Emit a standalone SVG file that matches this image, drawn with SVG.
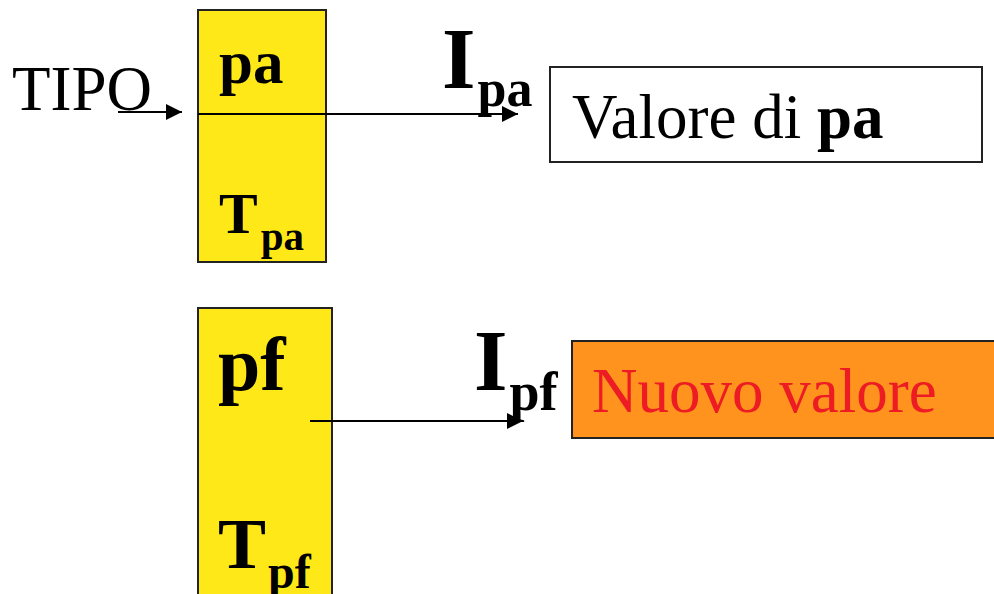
<svg xmlns="http://www.w3.org/2000/svg" width="994" height="594" viewBox="0 0 994 594">
<style>
.t{font-family:"Liberation Serif","Times New Roman",serif;fill:#000}
.b{font-weight:bold}
.box{stroke:#222;stroke-width:2}
.ln{stroke:#000;stroke-width:2.2;fill:none}
</style>
<defs>
<marker id="ah" markerUnits="userSpaceOnUse" markerWidth="18" markerHeight="16" refX="16" refY="8" orient="auto">
<path d="M0,0 L16,8 L0,16 Z" fill="#000"/>
</marker>
</defs>
<rect width="994" height="594" fill="#fff"/>
<g id="tipo">
<text class="t" x="12" y="110" font-size="63">TIPO</text>
</g>
<g id="box-pa">
<rect class="box" x="198" y="10" width="128" height="252" fill="#FFE817"/>
<line x1="198" y1="114" x2="326" y2="114" stroke="#000" stroke-width="2"/>
<text class="t b" x="219" y="83" font-size="61">pa</text>
<text class="t b" x="219" y="233" font-size="58">T<tspan font-size="41" dx="3" dy="17">pa</tspan></text>
</g>
<g id="label-ipa">
<text class="t b" x="442" y="88" font-size="86">I<tspan font-size="52" dx="2" dy="18">pa</tspan></text>
</g>
<g id="valore-pa">
<rect x="550" y="67" width="432" height="95" fill="#fff" stroke="#222" stroke-width="2"/>
<text class="t" x="572" y="138" font-size="63">Valore di <tspan font-weight="bold">pa</tspan></text>
</g>
<g id="box-pf">
<rect class="box" x="198" y="308" width="134" height="300" fill="#FFE817"/>
<text class="t b" x="218" y="390" font-size="76">pf</text>
<text class="t b" x="218" y="568" font-size="72">T<tspan font-size="48" dx="2" dy="20">pf</tspan></text>
</g>
<g id="label-ipf">
<text class="t b" x="474" y="390" font-size="86">I<tspan font-size="54" dx="2" dy="20">pf</tspan></text>
</g>
<g id="nuovo-valore">
<rect x="572" y="341" width="430" height="97" fill="#FF931E" stroke="#222" stroke-width="2"/>
<text x="592" y="412" font-size="63" font-family="Liberation Serif, Times New Roman, serif" fill="#ED1C24">Nuovo valore</text>
</g>
<g id="connectors">
<line class="ln" x1="118" y1="112" x2="182" y2="112" marker-end="url(#ah)"/>
<line class="ln" x1="310" y1="114" x2="518" y2="114" marker-end="url(#ah)"/>
<line class="ln" x1="310" y1="421" x2="523" y2="421" marker-end="url(#ah)"/>
</g>
</svg>
